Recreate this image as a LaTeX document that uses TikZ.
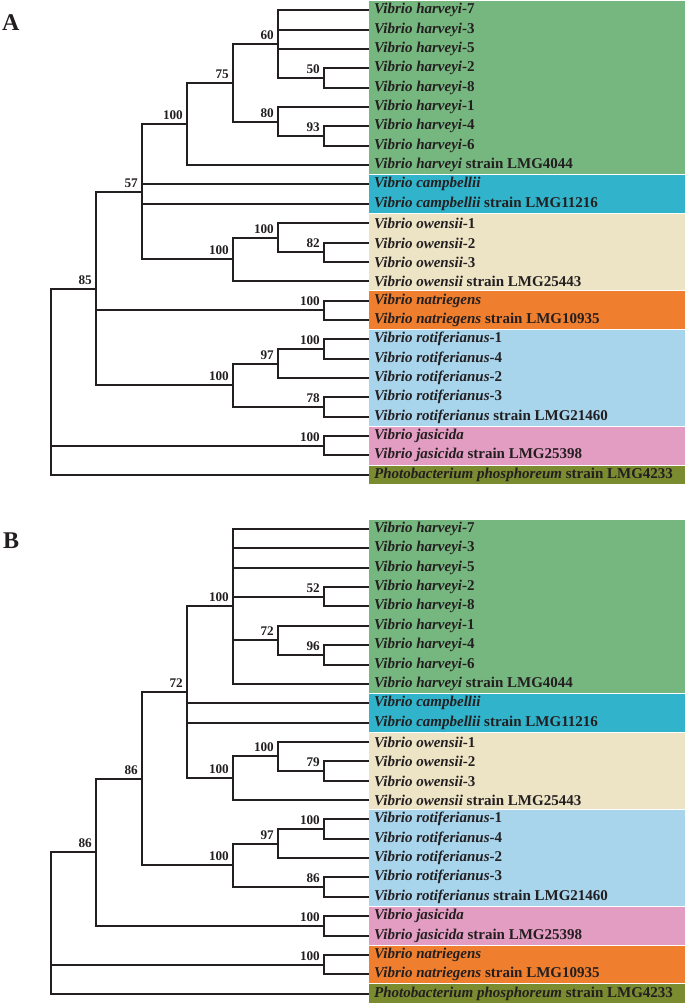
\documentclass[tikz,border=0pt]{standalone}
\usepackage{fontspec}
\setmainfont{Liberation Serif}
\usetikzlibrary{calc}

\definecolor{treeline}{HTML}{231F20}
\definecolor{harveyicol}{HTML}{76B67F}
\definecolor{campcol}{HTML}{31B4CB}
\definecolor{owencol}{HTML}{EDE3C5}
\definecolor{natcol}{HTML}{EF7F2E}
\definecolor{rotcol}{HTML}{A8D4EC}
\definecolor{jascol}{HTML}{E39CC2}
\definecolor{photocol}{HTML}{7B8B30}

\begin{document}
\begin{tikzpicture}[x=1pt,y=-1pt,
    branch/.style={draw=treeline, line width=1.8pt},
    leaf/.style={anchor=west, inner xsep=5pt, inner ysep=0pt, text=treeline,
                 font=\fontsize{15}{16}\selectfont\bfseries},
    support/.style={anchor=south east, inner xsep=4pt, inner ysep=4.5pt, text=treeline,
                    font=\fontsize{13.2}{14}\selectfont\bfseries},
    panel/.style={anchor=base west, inner sep=0pt, text=treeline,
                  font=\fontsize{24}{24}\selectfont\bfseries}]

  \useasboundingbox (0,0) rectangle (685,1006);

  % Parameters
  \def\rowh{19.36}   % distance between two leaves
  \def\colw{45.5}    % distance between two tree levels
  \def\xo{50.7}      % x of the root
  \def\xl{369}       % x where the leaves start
  \def\yA{10.2}      % first leaf of panel A
  \def\yB{529}       % first leaf of panel B

  % Panel letters
  \node[panel] (labA) at (2,31) {A};
  \node[panel] (labB) at (3,548) {B};

  % ---------------- Panel A ----------------
  % Coloured bands
  \foreach \c/\a/\b in {harveyicol/0/8, campcol/9/10, owencol/11/14, natcol/15/16,
                        rotcol/17/21, jascol/22/23, photocol/24/24}
    \fill[\c] (\xl,{\yA+(\a-0.5)*\rowh+0.5}) rectangle (685,{\yA+(\b+0.5)*\rowh-0.5});

  % Leaves
  \foreach \nm/\txt [count=\i from 0] in {
      aH7/{\textit{Vibrio harveyi}-7}, aH3/{\textit{Vibrio harveyi}-3},
      aH5/{\textit{Vibrio harveyi}-5}, aH2/{\textit{Vibrio harveyi}-2},
      aH8/{\textit{Vibrio harveyi}-8}, aH1/{\textit{Vibrio harveyi}-1},
      aH4/{\textit{Vibrio harveyi}-4}, aH6/{\textit{Vibrio harveyi}-6},
      aHL/{\textit{Vibrio harveyi} strain LMG4044},
      aC/{\textit{Vibrio campbellii}},
      aCL/{\textit{Vibrio campbellii} strain LMG11216},
      aO1/{\textit{Vibrio owensii}-1}, aO2/{\textit{Vibrio owensii}-2},
      aO3/{\textit{Vibrio owensii}-3},
      aOL/{\textit{Vibrio owensii} strain LMG25443},
      aN/{\textit{Vibrio natriegens}},
      aNL/{\textit{Vibrio natriegens} strain LMG10935},
      aR1/{\textit{Vibrio rotiferianus}-1}, aR4/{\textit{Vibrio rotiferianus}-4},
      aR2/{\textit{Vibrio rotiferianus}-2}, aR3/{\textit{Vibrio rotiferianus}-3},
      aRL/{\textit{Vibrio rotiferianus} strain LMG21460},
      aJ/{\textit{Vibrio jasicida}},
      aJL/{\textit{Vibrio jasicida} strain LMG25398},
      aP/{\textit{Photobacterium phosphoreum} strain LMG4233}}
    \node[leaf] (\nm) at (\xl,{round(\yA+\i*\rowh)}) {\txt};

  % Inner nodes: name / level / row
  \foreach \nm/\d/\r in {a50/6/3.5, a60/5/1.75, a93/6/6.5, a80/5/5.75, a75/4/3.75,
                         a100h/3/5.875, a82/6/12.5, a100oi/5/11.75, a100oo/4/12.875,
                         a57/2/9.375, a100n/6/15.5, a100ri/6/17.5, a97/5/18.25,
                         a78/6/20.5, a100ro/4/19.375, a85/1/14.375, a100j/6/22.5,
                         aroot/0/19.1875}
    \coordinate (\nm) at ({round(\xo+\d*\colw)},{round(\yA+\r*\rowh)});

  % Branches
  \foreach \p/\c in {aroot/a85, aroot/a100j, aroot/aP,
                     a85/a57, a85/a100n, a85/a100ro,
                     a57/a100h, a57/aC, a57/aCL, a57/a100oo,
                     a100h/a75, a100h/aHL, a75/a60, a75/a80,
                     a60/aH7, a60/aH3, a60/aH5, a60/a50, a50/aH2, a50/aH8,
                     a80/aH1, a80/a93, a93/aH4, a93/aH6,
                     a100oo/a100oi, a100oo/aOL, a100oi/aO1, a100oi/a82,
                     a82/aO2, a82/aO3, a100n/aN, a100n/aNL,
                     a100ro/a97, a100ro/a78, a97/a100ri, a97/aR2,
                     a100ri/aR1, a100ri/aR4, a78/aR3, a78/aRL,
                     a100j/aJ, a100j/aJL}
    \draw[branch] (\p) |- (\c);

  % Bootstrap values
  \foreach \nm/\s in {a50/50, a60/60, a93/93, a80/80, a75/75, a100h/100, a82/82,
                      a100oi/100, a100oo/100, a57/57, a100n/100, a100ri/100,
                      a97/97, a78/78, a100ro/100, a85/85, a100j/100}
    \node[support] at (\nm) {\s};

  % ---------------- Panel B ----------------
  % Coloured bands
  \foreach \c/\a/\b in {harveyicol/0/8, campcol/9/10, owencol/11/14, rotcol/15/19,
                        jascol/20/21, natcol/22/23, photocol/24/24}
    \fill[\c] (\xl,{\yB+(\a-0.5)*\rowh+0.5}) rectangle (685,{\yB+(\b+0.5)*\rowh-0.5});

  % Leaves
  \foreach \nm/\txt [count=\i from 0] in {
      bH7/{\textit{Vibrio harveyi}-7}, bH3/{\textit{Vibrio harveyi}-3},
      bH5/{\textit{Vibrio harveyi}-5}, bH2/{\textit{Vibrio harveyi}-2},
      bH8/{\textit{Vibrio harveyi}-8}, bH1/{\textit{Vibrio harveyi}-1},
      bH4/{\textit{Vibrio harveyi}-4}, bH6/{\textit{Vibrio harveyi}-6},
      bHL/{\textit{Vibrio harveyi} strain LMG4044},
      bC/{\textit{Vibrio campbellii}},
      bCL/{\textit{Vibrio campbellii} strain LMG11216},
      bO1/{\textit{Vibrio owensii}-1}, bO2/{\textit{Vibrio owensii}-2},
      bO3/{\textit{Vibrio owensii}-3},
      bOL/{\textit{Vibrio owensii} strain LMG25443},
      bR1/{\textit{Vibrio rotiferianus}-1}, bR4/{\textit{Vibrio rotiferianus}-4},
      bR2/{\textit{Vibrio rotiferianus}-2}, bR3/{\textit{Vibrio rotiferianus}-3},
      bRL/{\textit{Vibrio rotiferianus} strain LMG21460},
      bJ/{\textit{Vibrio jasicida}},
      bJL/{\textit{Vibrio jasicida} strain LMG25398},
      bN/{\textit{Vibrio natriegens}},
      bNL/{\textit{Vibrio natriegens} strain LMG10935},
      bP/{\textit{Photobacterium phosphoreum} strain LMG4233}}
    \node[leaf] (\nm) at (\xl,{round(\yB+\i*\rowh)}) {\txt};

  % Inner nodes: name / level / row
  \foreach \nm/\d/\r in {b52/6/3.5, b96/6/6.5, b72i/5/5.75, b100h/4/4,
                         b79/6/12.5, b100oi/5/11.75, b100oo/4/12.875, b72/3/8.4375,
                         b100ri/6/15.5, b97/5/16.25, b86r/6/18.5, b100ro/4/17.375,
                         b86u/2/12.90625, b100j/6/20.5, b86/1/16.703125,
                         b100n/6/22.5, broot/0/20.3515625}
    \coordinate (\nm) at ({round(\xo+\d*\colw)},{round(\yB+\r*\rowh)});

  % Branches
  \foreach \p/\c in {broot/b86, broot/b100n, broot/bP,
                     b86/b86u, b86/b100j,
                     b86u/b72, b86u/b100ro,
                     b72/b100h, b72/bC, b72/bCL, b72/b100oo,
                     b100h/bH7, b100h/bH3, b100h/bH5, b100h/b52, b100h/b72i, b100h/bHL,
                     b52/bH2, b52/bH8, b72i/bH1, b72i/b96, b96/bH4, b96/bH6,
                     b100oo/b100oi, b100oo/bOL, b100oi/bO1, b100oi/b79,
                     b79/bO2, b79/bO3,
                     b100ro/b97, b100ro/b86r, b97/b100ri, b97/bR2,
                     b100ri/bR1, b100ri/bR4, b86r/bR3, b86r/bRL,
                     b100j/bJ, b100j/bJL, b100n/bN, b100n/bNL}
    \draw[branch] (\p) |- (\c);

  % Bootstrap values
  \foreach \nm/\s in {b52/52, b96/96, b72i/72, b100h/100, b79/79, b100oi/100,
                      b100oo/100, b72/72, b100ri/100, b97/97, b86r/86, b100ro/100,
                      b86u/86, b100j/100, b86/86, b100n/100}
    \node[support] at (\nm) {\s};

\end{tikzpicture}
\end{document}
